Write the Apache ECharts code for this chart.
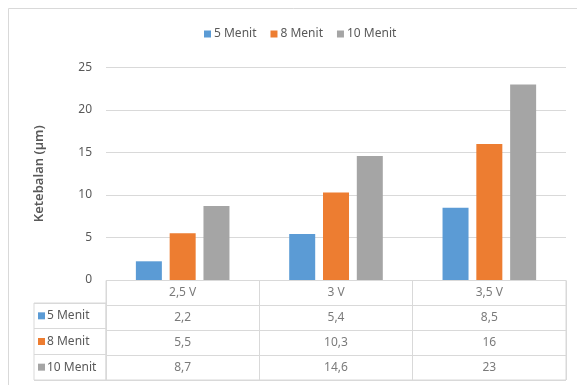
<!DOCTYPE html>
<html>
<head>
<meta charset="utf-8">
<script src="https://cdn.jsdelivr.net/npm/echarts@6/dist/echarts.min.js"></script>
<style>html,body{margin:0;padding:0;background:#fff}#c{width:577px;height:385px}</style>
</head>
<body>
<div id="c"></div>
<script>
const categories = ['2,5 V', '3 V', '3,5 V'];
const seriesNames = ['5 Menit', '8 Menit', '10 Menit'];
const values5 = [2.2, 5.4, 8.5];
const values8 = [5.5, 10.3, 16];
const values10 = [8.7, 14.6, 23];
const colors = ['#5b9bd5', '#ed7d31', '#a5a5a5'];
const yTicks = { min: 0, max: 25, interval: 5 };

const allValues = [values5, values8, values10];
const FONT = 'Noto Sans';
const TXT = '#595959';
const LINE = '#d9d9d9';
const fmt = v => String(v).replace('.', ',');

// table cells: header row (0) + one row per series
const tableCells = [];
categories.forEach((c, i) => tableCells.push({ value: [i, 0], label: c }));
allValues.forEach((arr, r) => arr.forEach((v, i) => tableCells.push({ value: [i, r + 1], label: fmt(v) })));

const rich = {};
colors.forEach((col, i) => { rich['s' + i] = { width: 7, height: 7, backgroundColor: col }; });
rich.t = { color: TXT, fontSize: 12, fontFamily: FONT, padding: [0, 0, 0, 2] };

const option = {
  animation: false,
  backgroundColor: '#fff',
  textStyle: { fontFamily: FONT },
  graphic: [{
    type: 'rect', shape: { x: 8.5, y: 8.5, width: 700, height: 500 },
    style: { fill: 'none', stroke: LINE, lineWidth: 1 }, silent: true, z: -10
  }],
  legend: {
    data: seriesNames, left: 199, top: 23,
    itemWidth: 7, itemHeight: 7, itemGap: 14,
    icon: 'rect',
    textStyle: { color: TXT, fontSize: 12, fontFamily: FONT, padding: [0, 0, 0, -2] }
  },
  grid: [
    { left: 106, right: 11, top: 67.5, bottom: 105 },
    { left: 106, right: 11, top: 280.5, height: 99.5, show: true, borderColor: LINE, borderWidth: 1 },
    { left: 34, width: 72, top: 303, height: 77, show: true, borderColor: LINE, borderWidth: 1 }
  ],
  xAxis: [
    { gridIndex: 0, type: 'category', data: categories, axisLine: { show: false }, axisTick: { show: false }, axisLabel: { show: false } },
    { gridIndex: 1, type: 'category', data: categories, axisLine: { show: false }, axisTick: { show: false }, axisLabel: { show: false },
      splitLine: { show: true, lineStyle: { color: LINE } } },
    { gridIndex: 2, type: 'value', min: 0, max: 1, show: false }
  ],
  yAxis: [
    { gridIndex: 0, type: 'value', min: yTicks.min, max: yTicks.max, interval: yTicks.interval,
      name: 'Ketebalan (µm)', nameLocation: 'middle', nameGap: 60, nameRotate: 90,
      nameTextStyle: { color: TXT, fontSize: 13, fontWeight: 600, fontFamily: FONT },
      axisLine: { show: false }, axisTick: { show: false },
      axisLabel: { color: TXT, fontSize: 12, fontFamily: FONT, margin: 14 },
      splitLine: { lineStyle: { color: LINE } } },
    { gridIndex: 1, type: 'category', inverse: true, data: [''].concat(seriesNames),
      axisLine: { show: false }, axisTick: { show: false }, axisLabel: { show: false },
      splitLine: { show: true, lineStyle: { color: LINE } } },
    { gridIndex: 2, type: 'category', inverse: true, data: seriesNames,
      axisLine: { show: false }, axisTick: { show: false },
      splitLine: { show: true, lineStyle: { color: LINE } },
      axisLabel: { inside: true, margin: 4, align: 'left',
        formatter: (v, i) => '{s' + i + '|}{t|' + v + '}', rich: rich } }
  ],
  series: seriesNames.map((n, i) => ({
    name: n, type: 'bar', xAxisIndex: 0, yAxisIndex: 0, data: allValues[i],
    barWidth: 26, barGap: '30%', itemStyle: { color: colors[i] }
  })).concat([{
    type: 'scatter', xAxisIndex: 1, yAxisIndex: 1, symbolSize: 0, silent: true,
    data: tableCells.map(c => ({ value: c.value, cellLabel: c.label })),
    label: { show: true, position: 'inside', color: TXT, fontSize: 12, fontFamily: FONT,
      formatter: p => p.data.cellLabel }
  }])
};
const chart = echarts.init(document.getElementById('c'), null, { renderer: 'canvas' });
chart.setOption(option);
</script>
</body>
</html>
